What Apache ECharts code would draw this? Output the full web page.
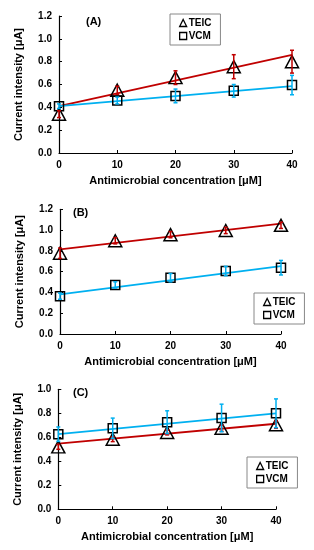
<!DOCTYPE html>
<html>
<head>
<meta charset="utf-8">
<script src="https://cdn.jsdelivr.net/npm/echarts@6/dist/echarts.min.js"></script>
<style>
html,body{margin:0;padding:0;background:#fff;}
#chart{width:314px;height:550px;}
</style>
</head>
<body>
<div id="chart"></div>
<script>
// ---- data ----
var concentrations = [0, 10, 20, 30, 40];
var trendX = [0, 40];
var xTicks = [0, 10, 20, 30, 40];

// Panel A
var teicA = [0.34, 0.55, 0.66, 0.756, 0.80];
var teicAErr = [0.03, 0.035, 0.06, 0.105, 0.10];
var vcmA = [0.41, 0.46, 0.50, 0.545, 0.595];
var vcmAErr = [0.02, 0.03, 0.06, 0.055, 0.085];
var teicAFit = [0.41, 0.86];
var vcmAFit = [0.41, 0.585];

// Panel B
var teicB = [0.777, 0.897, 0.956, 0.996, 1.046];
var teicBErr = [0.05, 0.03, 0.03, 0.03, 0.03];
var vcmB = [0.364, 0.472, 0.542, 0.606, 0.638];
var vcmBErr = [0.03, 0.03, 0.04, 0.045, 0.07];
var teicBFit = [0.815, 1.062];
var vcmBFit = [0.382, 0.654];

// Panel C
var teicC = [0.52, 0.584, 0.64, 0.675, 0.705];
var teicCErr = [0.02, 0.02, 0.02, 0.025, 0.03];
var vcmC = [0.626, 0.675, 0.726, 0.761, 0.80];
var vcmCErr = [0.06, 0.085, 0.095, 0.115, 0.12];
var teicCFit = [0.547, 0.713];
var vcmCFit = [0.627, 0.80];

var panelLabels = ['(A)', '(B)', '(C)'];
var yMaxes = [1.2, 1.2, 1.0];
var xTitle = 'Antimicrobial concentration [μM]';
var yTitle = 'Current intensity [μA]';

// ---- styling ----
var RED = '#C00000';
var BLUE = '#00B0F0';
var FONT = 'Arial, "Liberation Sans", sans-serif';

var grids = [
  {left: 59, top: 16, width: 233, height: 137},
  {left: 60, top: 209.3, width: 221, height: 124.7},
  {left: 58.3, top: 389.3, width: 217.7, height: 120}
];
var titlePos = [{left: 86, top: 16}, {left: 73, top: 207}, {left: 73, top: 387}];
var legendPos = [{left: 170, top: 14}, {left: 254, top: 293}, {left: 247, top: 457}];

function zip(xs, ys) { return xs.map(function (x, i) { return [x, ys[i]]; }); }
function zipErr(xs, ys, es) { return xs.map(function (x, i) { return [x, ys[i], es[i]]; }); }

function errRender(color) {
  return function (params, api) {
    var x = api.value(0), y = api.value(1), e = api.value(2);
    var top = api.coord([x, y + e]);
    var bot = api.coord([x, y - e]);
    var cw = 2;
    var st = {stroke: color, lineWidth: 1.5};
    return {
      type: 'group',
      children: [
        {type: 'line', shape: {x1: top[0], y1: top[1], x2: bot[0], y2: bot[1]}, style: st},
        {type: 'line', shape: {x1: top[0] - cw, y1: top[1], x2: top[0] + cw, y2: top[1]}, style: st},
        {type: 'line', shape: {x1: bot[0] - cw, y1: bot[1], x2: bot[0] + cw, y2: bot[1]}, style: st}
      ]
    };
  };
}

var panels = [
  {teic: teicA, teicErr: teicAErr, vcm: vcmA, vcmErr: vcmAErr, teicFit: teicAFit, vcmFit: vcmAFit},
  {teic: teicB, teicErr: teicBErr, vcm: vcmB, vcmErr: vcmBErr, teicFit: teicBFit, vcmFit: vcmBFit},
  {teic: teicC, teicErr: teicCErr, vcm: vcmC, vcmErr: vcmCErr, teicFit: teicCFit, vcmFit: vcmCFit}
];

var option = {
  animation: false,
  backgroundColor: '#fff',
  textStyle: {fontFamily: FONT},
  grid: grids,
  title: [],
  legend: [],
  xAxis: [],
  yAxis: [],
  series: []
};

panels.forEach(function (p, i) {
  option.title.push({
    text: panelLabels[i], left: titlePos[i].left, top: titlePos[i].top, padding: 0,
    textStyle: {fontFamily: FONT, fontSize: 11, fontWeight: 'bold', color: '#000'}
  });
  option.legend.push({
    orient: 'vertical',
    left: legendPos[i].left, top: legendPos[i].top,
    padding: [4, 9, 4, 9],
    itemGap: 3,
    itemWidth: 7, itemHeight: 7,
    borderColor: '#888', borderWidth: 1,
    backgroundColor: '#fff',
    selectedMode: false,
    textStyle: {fontFamily: FONT, fontSize: 10, fontWeight: 'bold', color: '#000', padding: [0, 0, 0, -3]},
    data: [
      {name: 'TEIC', icon: 'triangle', itemStyle: {color: 'rgba(0,0,0,0)', borderColor: '#000', borderWidth: 1.3}},
      {name: 'VCM', icon: 'rect', itemStyle: {color: 'rgba(0,0,0,0)', borderColor: '#000', borderWidth: 1.3}}
    ]
  });
  option.xAxis.push({
    type: 'value', gridIndex: i, min: xTicks[0], max: xTicks[xTicks.length - 1], interval: 10,
    name: xTitle, nameLocation: 'middle', nameGap: 22,
    nameTextStyle: {fontFamily: FONT, fontSize: 11, fontWeight: 'bold', color: '#000'},
    axisLine: {lineStyle: {color: '#000', width: 1.2}},
    axisTick: {inside: true, length: 3, lineStyle: {color: '#000'}},
    axisLabel: {fontFamily: FONT, fontSize: 10, fontWeight: 'bold', color: '#000', margin: 7},
    splitLine: {show: false}
  });
  option.yAxis.push({
    type: 'value', gridIndex: i, min: 0, max: yMaxes[i], interval: 0.2,
    name: yTitle, nameLocation: 'middle', nameGap: 35,
    nameTextStyle: {fontFamily: FONT, fontSize: 11, fontWeight: 'bold', color: '#000'},
    axisLine: {show: true, lineStyle: {color: '#000', width: 1.2}},
    axisTick: {show: true, inside: true, length: 3, lineStyle: {color: '#000'}},
    axisLabel: {fontFamily: FONT, fontSize: 10, fontWeight: 'bold', color: '#000', margin: 7,
      formatter: function (v) { return v.toFixed(1); }},
    splitLine: {show: false}
  });
  option.series.push(
    {name: 'TEIC fit', type: 'line', xAxisIndex: i, yAxisIndex: i, data: zip(trendX, p.teicFit),
      symbol: 'none', lineStyle: {color: RED, width: 1.8}, z: 2, silent: true},
    {name: 'VCM fit', type: 'line', xAxisIndex: i, yAxisIndex: i, data: zip(trendX, p.vcmFit),
      symbol: 'none', lineStyle: {color: BLUE, width: 1.8}, z: 2, silent: true},
    {name: 'TEIC', type: 'scatter', xAxisIndex: i, yAxisIndex: i, data: zip(concentrations, p.teic),
      symbol: 'triangle', symbolSize: [13, 12],
      itemStyle: {color: 'rgba(0,0,0,0)', borderColor: '#000', borderWidth: 1.5, opacity: 1}, z: 3},
    {name: 'VCM', type: 'scatter', xAxisIndex: i, yAxisIndex: i, data: zip(concentrations, p.vcm),
      symbol: 'rect', symbolSize: 9,
      itemStyle: {color: 'rgba(0,0,0,0)', borderColor: '#000', borderWidth: 1.5, opacity: 1}, z: 3},
    {name: 'TEIC err', type: 'custom', xAxisIndex: i, yAxisIndex: i, data: zipErr(concentrations, p.teic, p.teicErr),
      renderItem: errRender(RED), z: 4, silent: true},
    {name: 'VCM err', type: 'custom', xAxisIndex: i, yAxisIndex: i, data: zipErr(concentrations, p.vcm, p.vcmErr),
      renderItem: errRender(BLUE), z: 4, silent: true}
  );
});

var chart = echarts.init(document.getElementById('chart'), null, {renderer: 'canvas'});
chart.setOption(option);
</script>
</body>
</html>
